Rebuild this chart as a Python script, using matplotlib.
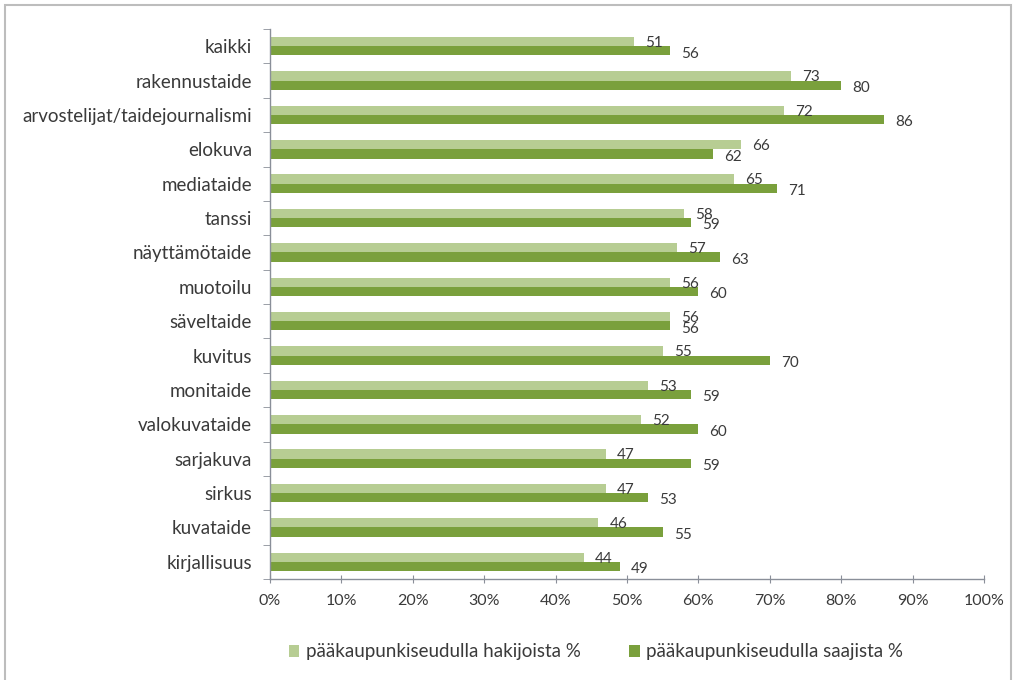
import numpy as np
import matplotlib
matplotlib.use('Agg')
import matplotlib.pyplot as plt
from matplotlib.patches import Rectangle

# data (top -> bottom)
categories = ['kaikki', 'rakennustaide', 'arvostelijat/taidejournalismi', 'elokuva',
              'mediataide', 'tanssi', 'näyttämötaide', 'muotoilu', 'säveltaide',
              'kuvitus', 'monitaide', 'valokuvataide', 'sarjakuva', 'sirkus',
              'kuvataide', 'kirjallisuus']
hakijoista = [51, 73, 72, 66, 65, 58, 57, 56, 56, 55, 53, 52, 47, 47, 46, 44]
saajista = [56, 80, 86, 62, 71, 59, 63, 60, 56, 70, 59, 60, 59, 53, 55, 49]
series_names = ['pääkaupunkiseudulla hakijoista %', 'pääkaupunkiseudulla saajista %']
xticks = [0, 10, 20, 30, 40, 50, 60, 70, 80, 90, 100]

light = '#b7cd93'
dark = '#7aa03c'
axis_col = '#8a8f99'
text_col = '#3a3a3a'

plt.rcParams['font.family'] = ['Lato', 'DejaVu Sans']

fig = plt.figure(figsize=(10.16, 6.8), dpi=100)
ax = fig.add_axes([270/1016, 1 - 579/680, (984 - 270)/1016, (579 - 29)/680])

y = np.arange(len(categories))
h = 0.27
ax.barh(y - h/2, hakijoista, height=h, color=light, label=series_names[0])
ax.barh(y + h/2, saajista, height=h, color=dark, label=series_names[1])

# value labels just right of the bar ends
for i in range(len(categories)):
    ax.annotate(str(hakijoista[i]), (hakijoista[i], y[i] - h/2), xytext=(8, -1),
                textcoords='offset points', ha='left', va='center',
                fontsize=11, color=text_col)
    ax.annotate(str(saajista[i]), (saajista[i], y[i] + h/2), xytext=(8, -2),
                textcoords='offset points', ha='left', va='center',
                fontsize=11, color=text_col)

ax.set_ylim(len(categories) - 0.5, -0.5)
ax.set_xlim(0, 100)
ax.set_yticks(y)
ax.set_yticklabels(categories, fontsize=13.5, color=text_col)
ax.set_yticks(np.arange(len(categories) + 1) - 0.5, minor=True)
ax.tick_params(axis='y', which='major', length=0, pad=13)
ax.tick_params(axis='y', which='minor', length=5, color=axis_col, direction='out')

ax.set_xticks(xticks)
ax.set_xticklabels([f'{t}%' for t in xticks], fontsize=11.5, color=text_col)
ax.tick_params(axis='x', length=6, color=axis_col, direction='inout', pad=8)

for s in ['top', 'right']:
    ax.spines[s].set_visible(False)
for s in ['left', 'bottom']:
    ax.spines[s].set_color(axis_col)
    ax.spines[s].set_linewidth(1)

leg = fig.legend(loc='center', bbox_to_anchor=(596/1016, 1 - 652/680), ncol=2,
                 frameon=False, fontsize=13.5, handlelength=0.55, handleheight=0.55,
                 handletextpad=0.35, columnspacing=2.6, labelcolor=text_col)

# chart border
fig.patches.append(Rectangle((5/1016, -0.01), 1006/1016, 1 - 5/680 + 0.01,
                             transform=fig.transFigure, fill=False,
                             edgecolor='#bdbdbd', linewidth=1.5))

fig.savefig('out.png', dpi=100)
